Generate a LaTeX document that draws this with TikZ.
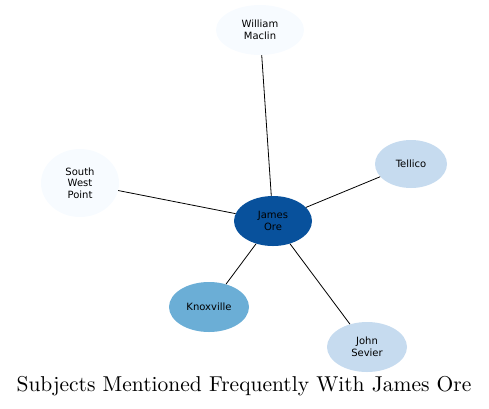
\documentclass[tikz,border=0pt]{standalone}
\usepackage{fontspec}
\newfontfamily\lab{DejaVu Sans}
\newfontfamily\ttl{lmroman10-regular.otf}
\usetikzlibrary{shapes.geometric}
\definecolor{c0}{HTML}{F7FBFF}
\definecolor{c1}{HTML}{C6DBEF}
\definecolor{c2}{HTML}{6BAED6}
\definecolor{c3}{HTML}{08519C}
\tikzset{
  ent/.style={ellipse, inner sep=0pt, font=\lab\fontsize{10}{11.5}\selectfont, align=center, text=black},
  link/.style={draw=black, line width=0.8pt}
}
\begin{document}
\begin{tikzpicture}[x=1pt,y=-1pt]
\useasboundingbox (0,0) rectangle (489,408);
\node[ent, fill=c0, minimum width=88pt, minimum height=50pt] (wm) at (260,30) {William\\Maclin};
\node[ent, fill=c3, minimum width=78pt, minimum height=50pt] (jo) at (273,221) {James\\Ore};
\node[ent, fill=c1, minimum width=72pt, minimum height=48pt] (te) at (411,164) {Tellico};
\node[ent, fill=c0, minimum width=78pt, minimum height=68pt] (sw) at (80,183) {South\\West\\Point};
\node[ent, fill=c2, minimum width=80pt, minimum height=50pt] (kn) at (209,307) {Knoxville};
\node[ent, fill=c1, minimum width=80pt, minimum height=50pt] (js) at (367,347) {John\\Sevier};
\draw[link] (jo) -- (wm);
\draw[link] (jo) -- (te);
\draw[link] (jo) -- (sw);
\draw[link] (jo) -- (kn);
\draw[link] (jo) -- (js);
\node[font=\ttl\fontsize{21.5}{26}\selectfont] (title) at (244,386) {Subjects Mentioned Frequently With James Ore};
\end{tikzpicture}
\end{document}
